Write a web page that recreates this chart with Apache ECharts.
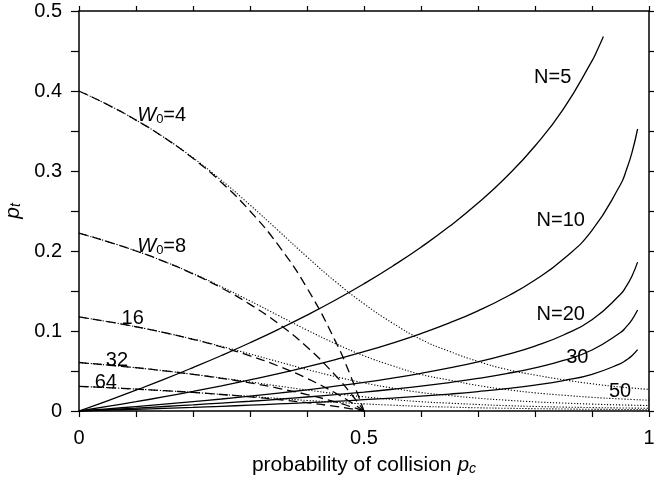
<!DOCTYPE html>
<html>
<head>
<meta charset="utf-8">
<script src="https://cdn.jsdelivr.net/npm/echarts@6.0.0/dist/echarts.min.js"></script>
<style>
html,body{margin:0;padding:0;background:#fff;}
#chart{width:654px;height:483px;}
</style>
</head>
<body>
<div id="chart"></div>
<script>
// x values (probability of collision)
const pMain = [0,0.05,0.1,0.15,0.2,0.25,0.3,0.35,0.4,0.45,0.5,0.55,0.6,0.65,0.7,0.75,0.8,0.85,0.9,0.95,1];
const pSolidN = [0,0.05,0.1,0.15,0.2,0.25,0.3,0.35,0.4,0.45,0.5,0.55,0.6,0.65,0.7,0.75,0.8,0.85,0.9,0.95,0.96,0.97,0.98];
const pSolid5 = [0,0.05,0.1,0.15,0.2,0.25,0.3,0.35,0.4,0.45,0.5,0.55,0.6,0.65,0.7,0.75,0.8,0.85,0.9,0.91,0.92];
const pDash = [0,0.05,0.1,0.15,0.2,0.25,0.3,0.35,0.4,0.45,0.475,0.5];

// solid curves (N stations)
const tN5  = [0,0.0127,0.0260,0.0398,0.0543,0.0694,0.0853,0.1021,0.1199,0.1388,0.1591,0.1810,0.2047,0.2308,0.2599,0.2929,0.3313,0.3777,0.4377,0.4523,0.4682];
const tN10 = [0,0.0057,0.0116,0.0179,0.0245,0.0315,0.0389,0.0467,0.0552,0.0643,0.0741,0.0849,0.0968,0.1101,0.1252,0.1428,0.1637,0.1900,0.2257,0.2831,0.3007,0.3227,0.3525];
const tN20 = [0,0.0027,0.0055,0.0085,0.0117,0.0150,0.0186,0.0224,0.0265,0.0310,0.0358,0.0412,0.0471,0.0538,0.0614,0.0704,0.0812,0.0950,0.1141,0.1459,0.1558,0.1685,0.1861];
const tN30 = [0,0.0018,0.0036,0.0056,0.0077,0.0099,0.0122,0.0147,0.0175,0.0204,0.0236,0.0272,0.0311,0.0356,0.0407,0.0467,0.0540,0.0633,0.0763,0.0981,0.1051,0.1139,0.1262];
const tN50 = [0,0.0010,0.0022,0.0033,0.0045,0.0059,0.0073,0.0088,0.0104,0.0121,0.0141,0.0162,0.0185,0.0212,0.0243,0.0279,0.0323,0.0380,0.0459,0.0593,0.0636,0.0691,0.0767];

// dashed curves (W0, unlimited stages)
const dW4  = [0.4,0.3830,0.3636,0.3415,0.3158,0.2857,0.25,0.2069,0.1538,0.0870,0.0465,0];
const dW8  = [0.2222,0.2118,0.2,0.1867,0.1714,0.1538,0.1333,0.1091,0.08,0.0444,0.0235,0];
const dW16 = [0.1176,0.1118,0.1053,0.0979,0.0896,0.08,0.0690,0.0561,0.0408,0.0225,0.0118,0];
const dW32 = [0.0606,0.0575,0.0541,0.0502,0.0458,0.0408,0.0351,0.0284,0.0206,0.0113,0.0059,0];
const dW64 = [0.0308,0.0292,0.0274,0.0254,0.0232,0.0206,0.0177,0.0143,0.0104,0.0057,0.0030,0];

// dotted curves (W0, limited stages)
const oW4  = [0.4,0.383,0.3636,0.3416,0.3165,0.2883,0.2575,0.2252,0.1927,0.1617,0.134,0.110,0.0895,0.0745,0.062,0.052,0.045,0.039,0.034,0.030,0.027];
const oW8  = [0.2222,0.2118,0.2,0.1867,0.1718,0.1553,0.1376,0.1193,0.1012,0.0842,0.069,0.0566,0.0457,0.0386,0.0319,0.0268,0.0227,0.0197,0.0171,0.0151,0.0135];
const oW16 = [0.1176,0.1118,0.1053,0.0979,0.0898,0.0808,0.0713,0.0615,0.0519,0.043,0.0351,0.0287,0.0231,0.0194,0.016,0.0135,0.0114,0.0099,0.0086,0.0076,0.0068];
const oW32 = [0.0606,0.0575,0.0541,0.0502,0.0459,0.0412,0.0363,0.0312,0.0263,0.0217,0.0177,0.0144,0.0116,0.0098,0.0081,0.0067,0.0057,0.0049,0.0043,0.0038,0.0034];
const oW64 = [0.0308,0.0292,0.0274,0.0254,0.0232,0.0208,0.0183,0.0157,0.0132,0.0109,0.0089,0.0073,0.0058,0.0049,0.004,0.0034,0.0029,0.0025,0.0021,0.0019,0.0017];

// in-plot annotations
const annX = [0.832,0.846,0.846,0.875,0.950,0.146,0.146,0.095,0.0675,0.048];
const annY = [0.4165,0.2375,0.120,0.0665,0.0235,0.3685,0.2045,0.115,0.0625,0.035];
const annText = ['N=5','N=10','N=20','30','50','{i|W}{s|0}{n|=4}','{i|W}{s|0}{n|=8}','16','32','64'];

const FONT = 'Liberation Sans, Arial, Helvetica, sans-serif';
const zip = (xs, ys) => xs.map((x, i) => [x, ys[i]]);

function lineSeries(xs, ys, type, width) {
  return {
    type: 'line', data: zip(xs, ys), showSymbol: false, symbol: 'none',
    smooth: 0.5, silent: true,
    lineStyle: { color: '#000', width: width, type: type },
    z: 3
  };
}

const dashType = [9, 5];
const dotType = [1.2, 1.8];

const series = [
  lineSeries(pSolid5, tN5, 'solid', 1.3),
  lineSeries(pSolidN, tN10, 'solid', 1.3),
  lineSeries(pSolidN, tN20, 'solid', 1.3),
  lineSeries(pSolidN, tN30, 'solid', 1.3),
  lineSeries(pSolidN, tN50, 'solid', 1.3),
  lineSeries(pDash, dW4, dashType, 1.3),
  lineSeries(pDash, dW8, dashType, 1.3),
  lineSeries(pDash, dW16, dashType, 1.3),
  lineSeries(pDash, dW32, dashType, 1.3),
  lineSeries(pDash, dW64, dashType, 1.3),
  lineSeries(pMain, oW4, dotType, 1.1),
  lineSeries(pMain, oW8, dotType, 1.1),
  lineSeries(pMain, oW16, dotType, 1.1),
  lineSeries(pMain, oW32, dotType, 1.1),
  lineSeries(pMain, oW64, dotType, 1.1),
  {
    type: 'scatter', silent: true, symbol: 'circle', symbolSize: 1,
    itemStyle: { color: 'rgba(0,0,0,0)' }, z: 10,
    data: annX.map((x, i) => ({ value: [x, annY[i]], txt: annText[i] })),
    label: {
      show: true, position: [0, 0], align: 'center', verticalAlign: 'middle',
      color: '#000', opacity: 1, textBorderWidth: 0, textBorderColor: 'transparent',
      fontFamily: FONT, fontSize: 20,
      formatter: p => p.data.txt,
      rich: {
        i: { fontSize: 20, fontStyle: 'italic', fontFamily: FONT, color: '#000', lineHeight: 20, verticalAlign: 'top' },
        s: { fontSize: 13, fontFamily: FONT, color: '#000', lineHeight: 13, verticalAlign: 'bottom', padding: [8, 0, 0, 0] },
        n: { fontSize: 20, fontFamily: FONT, color: '#000', lineHeight: 20, verticalAlign: 'top' }
      }
    },
    labelLayout: { hideOverlap: false }
  }
];

const axisLineStyle = { color: '#000', width: 1.5 };
const chart = echarts.init(document.getElementById('chart'), null, { renderer: 'canvas' });
chart.setOption({
  animation: false,
  backgroundColor: '#fff',
  grid: { left: 79, right: 5, top: 11, bottom: 72, containLabel: false, outerBoundsMode: 'none' },
  xAxis: [
    {
      type: 'value', min: 0, max: 1, interval: 0.1, position: 'bottom',
      axisLine: { show: true, onZero: false, lineStyle: axisLineStyle },
      axisTick: { show: true, inside: false, length: 6, lineStyle: { color: '#000', width: 1.2 } },
      splitLine: { show: false },
      axisLabel: {
        show: true, margin: 17, color: '#000', fontFamily: FONT, fontSize: 20,
        showMinLabel: true, showMaxLabel: true, hideOverlap: false,
        formatter: v => Math.abs(v) < 1e-9 ? '0' : (Math.abs(v - 0.5) < 1e-9 ? '0.5' : (Math.abs(v - 1) < 1e-9 ? '1' : ''))
      },
      name: '{a|probability of collision }{i|p}{s|c}',
      nameLocation: 'middle', nameGap: 43,
      nameTextStyle: {
        color: '#000', fontFamily: FONT, fontSize: 21,
        rich: {
          a: { fontSize: 21, fontFamily: FONT, color: '#000', lineHeight: 21, verticalAlign: 'top' },
          i: { fontSize: 21, fontFamily: FONT, fontStyle: 'italic', color: '#000', lineHeight: 21, verticalAlign: 'top' },
          s: { fontSize: 14, fontFamily: FONT, fontStyle: 'italic', color: '#000', lineHeight: 14, verticalAlign: 'bottom', padding: [9, 0, 0, 0] }
        }
      }
    },
    {
      type: 'value', min: 0, max: 1, interval: 0.1, position: 'top',
      axisLine: { show: true, onZero: false, lineStyle: axisLineStyle },
      axisTick: { show: true, inside: false, length: 5, lineStyle: { color: '#000', width: 1.2 } },
      splitLine: { show: false },
      axisLabel: { show: false }
    }
  ],
  yAxis: [
    {
      type: 'value', min: 0, max: 0.5, interval: 0.05, position: 'left',
      axisLine: { show: true, onZero: false, lineStyle: axisLineStyle },
      axisTick: { show: true, inside: false, length: 8, lineStyle: { color: '#000', width: 1.2 } },
      splitLine: { show: false },
      axisLabel: {
        show: true, margin: 17, color: '#000', fontFamily: FONT, fontSize: 20,
        showMinLabel: true, showMaxLabel: true, hideOverlap: false,
        formatter: v => {
          const t = v * 10;
          if (Math.abs(t - Math.round(t)) > 1e-6) return '';
          const r = Math.round(t) / 10;
          return r === 0 ? '0' : String(r);
        }
      },
      name: '{i|p}{s|t}',
      nameLocation: 'middle', nameGap: 48,
      nameTextStyle: {
        color: '#000', fontFamily: FONT, fontSize: 21,
        rich: {
          i: { fontSize: 21, fontFamily: FONT, fontStyle: 'italic', color: '#000', lineHeight: 21, verticalAlign: 'top' },
          s: { fontSize: 14, fontFamily: FONT, fontStyle: 'italic', color: '#000', lineHeight: 14, verticalAlign: 'bottom', padding: [9, 0, 0, 0] }
        }
      }
    },
    {
      type: 'value', min: 0, max: 0.5, interval: 0.05, position: 'right',
      axisLine: { show: true, onZero: false, lineStyle: axisLineStyle },
      axisTick: { show: true, inside: false, length: 6, lineStyle: { color: '#000', width: 1.2 } },
      splitLine: { show: false },
      axisLabel: { show: false }
    }
  ],
  series: series
});
</script>
</body>
</html>
